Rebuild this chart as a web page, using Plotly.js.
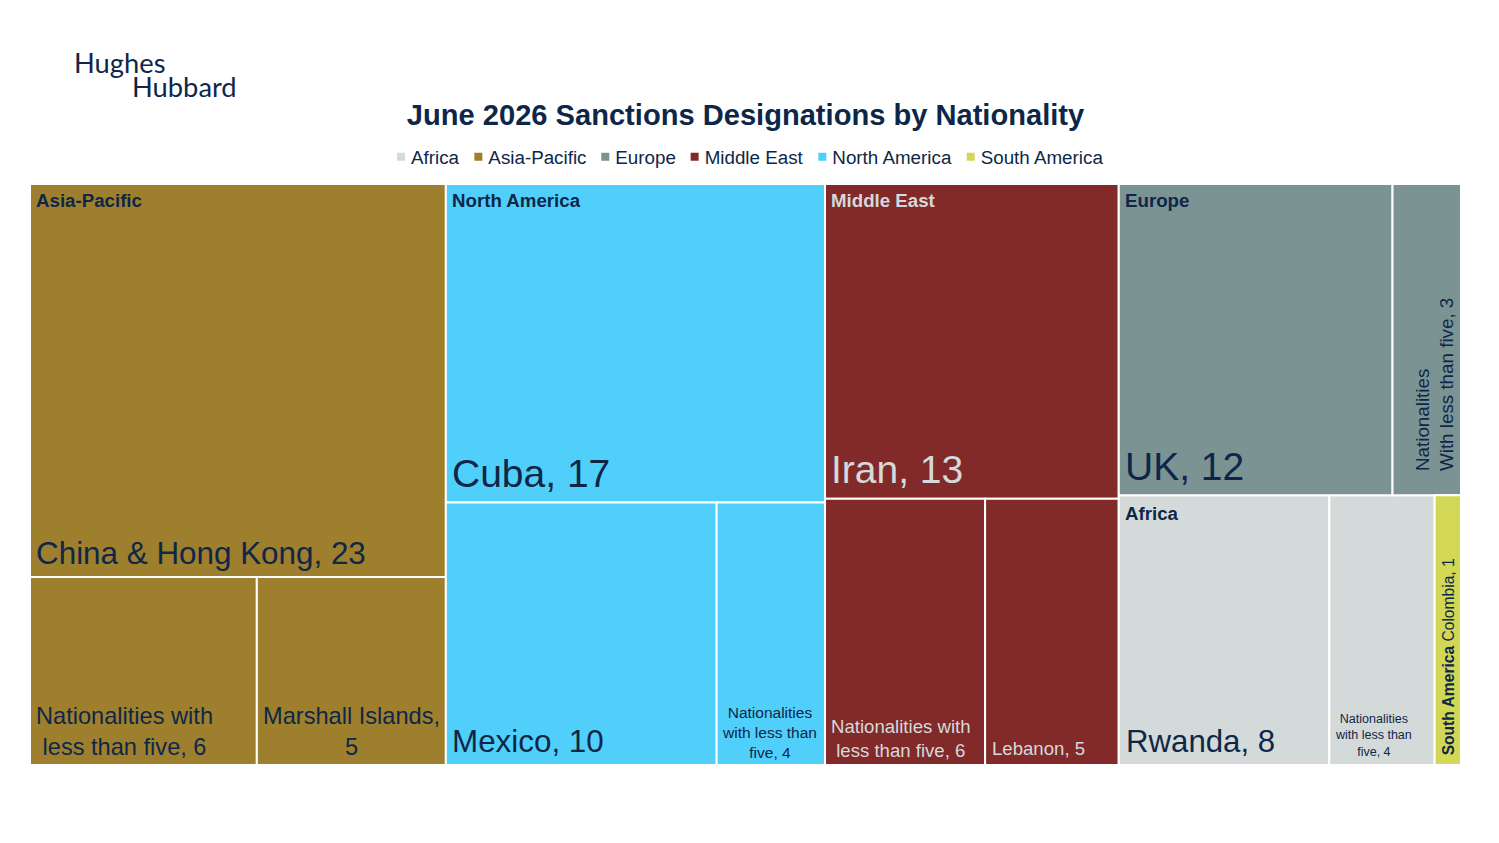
<!DOCTYPE html>
<html><head><meta charset="utf-8">
<script src="https://cdn.plot.ly/plotly-3.0.1.min.js"></script>
<style>html,body{margin:0;padding:0;background:#fff}#chart{width:1499px;height:843px}</style>
</head><body><div id="chart"></div>
<script>
// ---- data ----
const legendRegions = ["Africa","Asia-Pacific","Europe","Middle East","North America","South America"];
// tiles: region, label, value; grouped in columns and rows below
const tileRegions = ["Asia-Pacific","Asia-Pacific","Asia-Pacific","North America","North America","North America","Middle East","Middle East","Middle East","Europe","Europe","Africa","Africa","South America"];
const tileLabels  = ["China & Hong Kong","Nationalities with less than five","Marshall Islands","Cuba","Mexico","Nationalities with less than five","Iran","Nationalities with less than five","Lebanon","UK","Nationalities With less than five","Rwanda","Nationalities with less than five","Colombia"];
const tileValues  = [23,6,5,17,10,4,13,6,5,12,3,8,4,1];
// how many tiles in each row of each column of the treemap
const columnRows  = [[1,2],[1,2],[1,2],[2,3]];

// ---- style ----
const NAVY="#0E2748", LIGHT="#D3DAD9", FONT="Liberation Sans, Arial, sans-serif";
const regionColors={"Africa":"#D3DAD9","Asia-Pacific":"#9E7F2D","Europe":"#7C9393","Middle East":"#82292A","North America":"#51CFFB","South America":"#D2D755"};
const labelStyle=[
 {t:"China & Hong Kong, 23",s:31.4,a:"left",dx:4,dy:4},
 {t:"Nationalities with<br>less than five, 6",s:23.6,a:"center",dy:3,cx:-19},
 {t:"Marshall Islands,<br>5",s:23.6,a:"center",dy:3},
 {t:"Cuba, 17",s:39,a:"left",dx:4,dy:6},
 {t:"Mexico, 10",s:31.4,a:"left",dx:4,dy:4},
 {t:"Nationalities<br>with less than<br>five, 4",s:15.5,a:"center",dy:2,cx:-1},
 {t:"Iran, 13",s:39,a:"left",dx:4,dy:6,c:LIGHT},
 {t:"Nationalities with<br>less than five, 6",s:18.6,a:"center",dy:2.5,c:LIGHT,cx:-4},
 {t:"Lebanon, 5",s:18.6,a:"left",dx:5,dy:4,c:LIGHT},
 {t:"UK, 12",s:39,a:"left",dx:4,dy:5},
 {t:"Nationalities<br>With less than five, 3",s:18.8,rot:true,dy:22,cx:7.5},
 {t:"Rwanda, 8",s:31.2,a:"left",dx:5,dy:4},
 {t:"Nationalities<br>with less than<br>five, 4",s:12.5,a:"center",dy:4,cx:-8},
 {t:"<b>South America</b> Colombia, 1",s:15.6,rot:true,dy:8,cx:1}
];

// ---- treemap geometry derived from the values ----
const total=tileValues.reduce((a,b)=>a+b,0);
const tiles=[]; let idx=0, colX=0;
columnRows.forEach(rows=>{
  let k=idx; const sums=rows.map(n=>{let s=0;for(let i=0;i<n;i++)s+=tileValues[k+i];k+=n;return s;});
  const colSum=sums.reduce((a,b)=>a+b,0);
  let top=1;
  rows.forEach((n,r)=>{
    const h=sums[r]/colSum; let x=colX;
    const base=Math.max(0,Math.round((top-h)*1e9)/1e9);
    for(let i=0;i<n;i++){
      const w=tileValues[idx]/sums[r]*colSum;
      tiles.push({i:idx,x0:x,w:w,base:base,h:h,top:Math.min(1,Math.round(top*1e9)/1e9)}); x+=w; idx++;
    }
    top-=h;
  });
  colX+=colSum;
});

const traces=legendRegions.map(reg=>{
  const ts=tiles.filter(t=>tileRegions[t.i]===reg);
  return {type:"bar",name:reg,orientation:"v",
    x:ts.map(t=>t.x0+t.w/2),width:ts.map(t=>t.w),y:ts.map(t=>t.h),base:ts.map(t=>t.base),
    customdata:ts.map(t=>tileLabels[t.i]+", "+tileValues[t.i]),
    hovertemplate:"%{customdata}<extra>"+reg+"</extra>",
    marker:{color:regionColors[reg],line:{color:"#fff",width:2}}};
});

const anns=[];
tiles.forEach(t=>{
  const st=labelStyle[t.i], c=st.c||NAVY;
  if(st.rot){
    anns.push({xref:"x",yref:"y",x:t.x0+t.w/2,y:t.base,xanchor:"center",yanchor:"bottom",xshift:st.cx||0,yshift:st.dy,
      text:st.t,textangle:-90,align:"left",showarrow:false,font:{family:FONT,size:st.s,color:c}});
  } else if(st.a==="center"){
    anns.push({xref:"x",yref:"y",x:t.x0+t.w/2,y:t.base,xanchor:"center",yanchor:"bottom",xshift:st.cx||0,yshift:st.dy,
      text:st.t,align:"center",showarrow:false,font:{family:FONT,size:st.s,color:c}});
  } else {
    anns.push({xref:"x",yref:"y",x:t.x0,y:t.base,xanchor:"left",yanchor:"bottom",xshift:st.dx,yshift:st.dy,
      text:st.t,showarrow:false,font:{family:FONT,size:st.s,color:c}});
  }
});
// region headers in the top-left of each group
["Asia-Pacific","North America","Middle East","Europe","Africa"].forEach(reg=>{
  const t=tiles.find(t=>tileRegions[t.i]===reg);
  anns.push({xref:"x",yref:"y",x:t.x0,y:t.top,xanchor:"left",yanchor:"top",xshift:4,yshift:reg==="Africa"?-6:-4,
    text:"<b>"+reg+"</b>",showarrow:false,font:{family:FONT,size:18.7,color:reg==="Middle East"?LIGHT:NAVY}});
});
// logo wordmark
anns.push({xref:"paper",yref:"paper",x:(72-30)/1431,y:(765-63)/581,xanchor:"left",yanchor:"middle",text:"Hughes",showarrow:false,font:{family:"Lato, sans-serif",size:27.3,color:NAVY}});
anns.push({xref:"paper",yref:"paper",x:(130-30)/1431,y:(765-87)/581,xanchor:"left",yanchor:"middle",text:"Hubbard",showarrow:false,font:{family:"Lato, sans-serif",size:27.3,color:NAVY}});

Plotly.newPlot("chart",traces,{
  width:1499,height:843,autosize:false,paper_bgcolor:"#fff",plot_bgcolor:"#fff",
  margin:{l:30,r:38,t:184,b:78,pad:0},
  title:{text:"<b>June 2026 Sanctions Designations by Nationality</b>",x:745.5/1499,xanchor:"center",y:1-115/843,yanchor:"middle",font:{family:FONT,size:29.1,color:NAVY}},
  xaxis:{range:[0,total],visible:false,fixedrange:true},
  yaxis:{range:[0,1],visible:false,fixedrange:true},
  barmode:"overlay",
  showlegend:true,
  legend:{orientation:"h",x:(748-30)/1431,xanchor:"center",y:(765-157)/581,yanchor:"middle",traceorder:"normal",font:{family:FONT,size:18.8,color:NAVY},itemclick:false,itemdoubleclick:false},
  annotations:anns
},{displayModeBar:false}).then(gd=>{
  // tighten the native legend's entries: smaller swatch closer to its text
  let textStart=411;
  gd.querySelectorAll(".legend .traces").forEach(item=>{
    const txt=item.querySelector(".legendtext");
    const sym=item.querySelector(".legendsymbols");
    const path=item.querySelector(".legendbar path, .legendsymbols path");
    if(path) path.setAttribute("d","M5,5H-5V-5H5Z");
    if(sym) sym.setAttribute("transform","translate(10,0)");
    const m=/translate\(\s*([-\d.]+)[ ,]+([-\d.]+)/.exec(item.getAttribute("transform")||"")||[0,0,0];
    const r=txt.getBoundingClientRect();
    item.setAttribute("transform","translate("+(parseFloat(m[1])+textStart-r.left)+","+m[2]+")");
    textStart+=r.width+28.8;
  });
});
</script></body></html>
